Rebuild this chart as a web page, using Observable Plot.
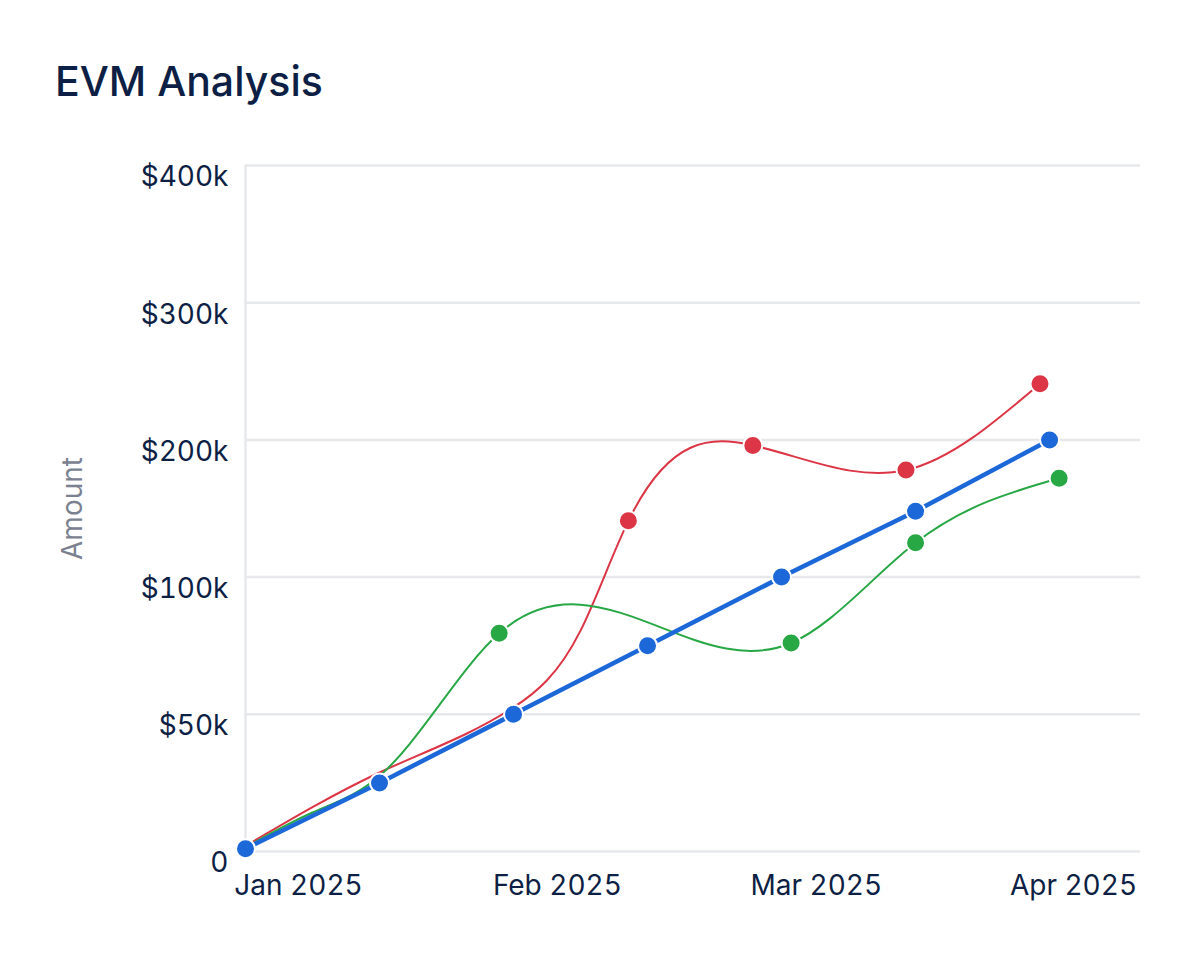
<!DOCTYPE html>
<html>
<head>
<meta charset="utf-8">
<script src="https://cdn.jsdelivr.net/npm/d3@7"></script>
<script src="https://cdn.jsdelivr.net/npm/@observablehq/plot@0.6"></script>
<style>
  html, body { margin: 0; padding: 0; background: #ffffff; }
  #wrap { position: relative; width: 1194px; height: 954px; font-family: Inter, "Noto Sans", sans-serif; }
  #title { position: absolute; left: 55px; top: 56px; font-size: 41px; font-weight: 500; color: #0e1f45; line-height: normal; white-space: nowrap; }
  #chart { position: absolute; left: 0; top: 130px; }
</style>
</head>
<body>
<div id="wrap">
  <div id="title">EVM Analysis</div>
  <div id="chart"></div>
</div>
<script>
// Planned Value (blue)
const pvDates = ["2025-01-01T00:00Z","2025-01-15T00:00Z","2025-01-29T00:00Z","2025-02-12T00:00Z","2025-02-26T00:00Z","2025-03-12T00:00Z","2025-03-26T00:00Z"];
const pvValues = [1000, 25000, 50000, 75000, 100000, 148000, 200000];
const pvMarked = [true, true, true, true, true, true, true];
// Actual Cost (red)
const acDates = ["2025-01-01T00:00Z","2025-01-15T00:00Z","2025-01-29T00:00Z","2025-02-05T00:00Z","2025-02-10T00:00Z","2025-02-23T00:00Z","2025-03-11T00:00Z","2025-03-25T00:00Z"];
const acValues = [2000, 28800, 52500, 80500, 141000, 196000, 178000, 241000];
const acMarked = [false, false, false, false, true, true, true, true];
// Earned Value (green)
const evDates = ["2025-01-01T00:00Z","2025-01-08T00:00Z","2025-01-15T00:00Z","2025-01-27T12:00Z","2025-02-27T00:00Z","2025-03-12T00:00Z","2025-03-27T00:00Z"];
const evValues = [1500, 14200, 27500, 79500, 76000, 125000, 172000];
const evMarked = [false, false, false, true, true, true, true];

const xDomain = ["2025-01-01T00:00Z", "2025-04-04T12:00Z"];
const xTickDates = ["2025-01-06T13:00Z","2025-02-02T14:00Z","2025-03-01T15:00Z","2025-03-28T12:00Z"];
const xTickLabels = ["Jan 2025","Feb 2025","Mar 2025","Apr 2025"];
const yTicks = [0, 50000, 100000, 200000, 300000, 400000];

const colors = {pv: "#1c68d9", ac: "#dc3545", ev: "#28a745"};
const toRows = (dates, values, marked) => dates.map((d, i) => ({date: new Date(d), value: values[i], marked: marked[i]}));
const pv = toRows(pvDates, pvValues, pvMarked);
const ac = toRows(acDates, acValues, acMarked);
const ev = toRows(evDates, evValues, evMarked);

// natural cubic spline with y as a function of x
function curveNaturalX(context) {
  let xs, ys;
  return {
    areaStart() {}, areaEnd() {},
    lineStart() { xs = []; ys = []; },
    point(x, y) { xs.push(+x); ys.push(+y); },
    lineEnd() {
      const n = xs.length;
      if (!n) return;
      context.moveTo(xs[0], ys[0]);
      if (n === 1) return;
      if (n === 2) { context.lineTo(xs[1], ys[1]); return; }
      const h = [];
      for (let i = 0; i < n - 1; i++) h.push(xs[i + 1] - xs[i]);
      const a = [], b = [], c = [], d = [];
      for (let i = 1; i < n - 1; i++) {
        a.push(h[i - 1]); b.push(2 * (h[i - 1] + h[i])); c.push(h[i]);
        d.push(6 * ((ys[i + 1] - ys[i]) / h[i] - (ys[i] - ys[i - 1]) / h[i - 1]));
      }
      const m = n - 2;
      for (let k = 1; k < m; k++) { const w = a[k] / b[k - 1]; b[k] -= w * c[k - 1]; d[k] -= w * d[k - 1]; }
      const M = new Array(n).fill(0);
      M[m] = d[m - 1] / b[m - 1];
      for (let k = m - 2; k >= 0; k--) M[k + 1] = (d[k] - c[k] * M[k + 2]) / b[k];
      for (let i = 0; i < n - 1; i++) {
        const hi = h[i], dy = (ys[i + 1] - ys[i]) / hi;
        const s0 = dy - hi * (2 * M[i] + M[i + 1]) / 6;
        const s1 = dy + hi * (M[i] + 2 * M[i + 1]) / 6;
        context.bezierCurveTo(xs[i] + hi / 3, ys[i] + s0 * hi / 3, xs[i + 1] - hi / 3, ys[i + 1] - s1 * hi / 3, xs[i + 1], ys[i + 1]);
      }
    }
  };
}

const width = 1194, height = 800;
const marginTop = 35, marginBottom = 79, marginLeft = 245, marginRight = 54;
const plotH = height - marginTop - marginBottom;
const yRange = yTicks.map((_, i) => height - marginBottom - i * plotH / (yTicks.length - 1));
const fmtY = d => d === 0 ? "0" : `$${d / 1000}k`;
const dotOpts = (color) => ({x: "date", y: "value", r: 9.5, fill: color, stroke: "#ffffff", strokeWidth: 2, filter: d => d.marked});

const chart = Plot.plot({
  width, height, marginTop, marginBottom, marginLeft, marginRight,
  style: {fontFamily: "Inter, 'Noto Sans', sans-serif", fontSize: "28px", color: "#0e1f45", background: "#ffffff"},
  x: {type: "utc", domain: xDomain.map(d => new Date(d))},
  y: {type: "linear", domain: yTicks, range: yRange},
  marks: [
    Plot.gridY(yTicks, {stroke: "#e6e8eb", strokeOpacity: 1, strokeWidth: 2.5}),
    Plot.ruleX([new Date(xDomain[0])], {stroke: "#e6e8eb", strokeWidth: 2.5}),
    Plot.axisY({ticks: yTicks, tickSize: 0, tickPadding: 17, tickFormat: fmtY, dy: 12,
      label: "Amount", labelArrow: "none", labelAnchor: "center", labelOffset: 183}),
    Plot.axisX({ticks: xTickDates.map(d => new Date(d)), tickSize: 0, tickPadding: 24,
      tickFormat: (d, i) => xTickLabels[i], label: null}),
    Plot.lineY(ac, {x: "date", y: "value", stroke: colors.ac, strokeWidth: 2, curve: curveNaturalX}),
    Plot.dot(ac, dotOpts(colors.ac)),
    Plot.lineY(ev, {x: "date", y: "value", stroke: colors.ev, strokeWidth: 2, curve: curveNaturalX}),
    Plot.dot(ev, dotOpts(colors.ev)),
    Plot.lineY(pv, {x: "date", y: "value", stroke: colors.pv, strokeWidth: 4.5, curve: "linear"}),
    Plot.dot(pv, dotOpts(colors.pv))
  ]
});
document.getElementById("chart").appendChild(chart);
chart.querySelectorAll("g[aria-label='y-axis label'] text").forEach(el => {
  el.setAttribute("fill", "#7b8190");
  el.textContent = el.textContent.replace(/[↑→↓←]/g, "").trim();
});
</script>
</body>
</html>
